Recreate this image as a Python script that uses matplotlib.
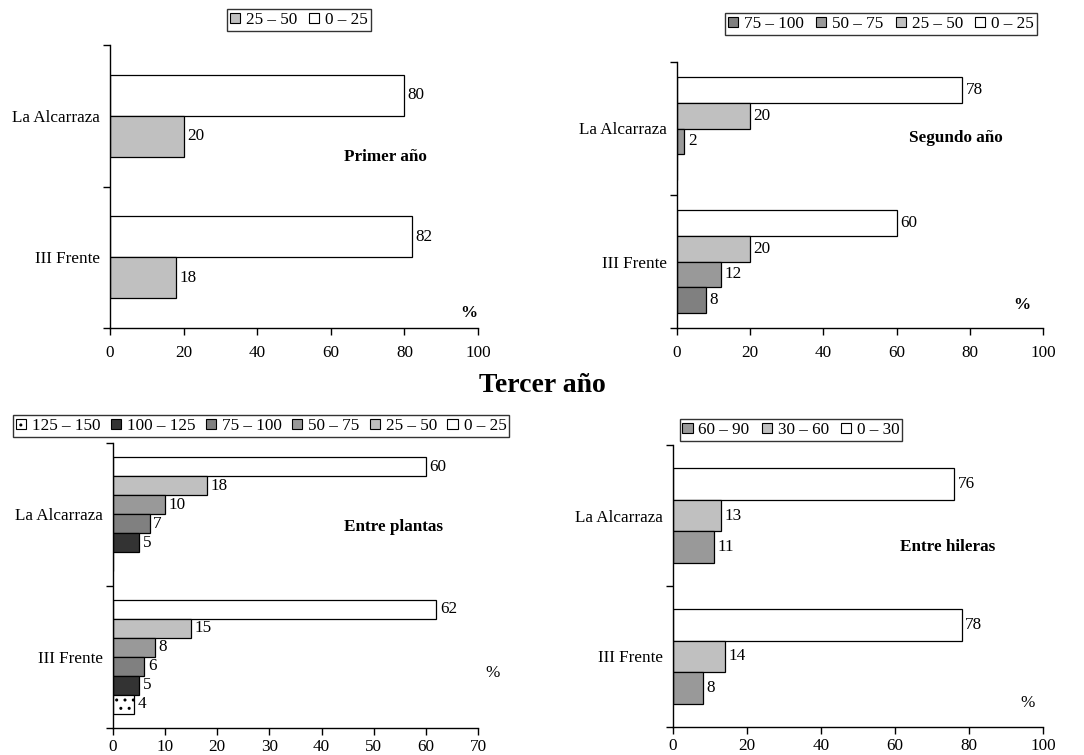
import matplotlib
matplotlib.use("Agg")
import matplotlib.pyplot as plt
from matplotlib.patches import Patch

plt.rcParams['font.family'] = ['Liberation Serif', 'DejaVu Serif']
plt.rcParams['hatch.color'] = '#444444'
plt.rcParams['hatch.linewidth'] = 1.0

W, H = 1084, 755
FS = 12.3

sites = ["La Alcarraza", "III Frente"]

# Panel 1: Primer año
p1_classes = ["0 – 25", "25 – 50"]
p1_alcarraza = [80, 20]
p1_frente = [82, 18]

# Panel 2: Segundo año
p2_classes = ["0 – 25", "25 – 50", "50 – 75", "75 – 100"]
p2_alcarraza = [78, 20, 2, 0]
p2_frente = [60, 20, 12, 8]

# Panel 3: Tercer año, entre plantas
p3_classes = ["0 – 25", "25 – 50", "50 – 75", "75 – 100", "100 – 125", "125 – 150"]
p3_alcarraza = [60, 18, 10, 7, 5, 0]
p3_frente = [62, 15, 8, 6, 5, 4]

# Panel 4: Tercer año, entre hileras
p4_classes = ["0 – 30", "30 – 60", "60 – 90"]
p4_alcarraza = [76, 13, 11]
p4_frente = [78, 14, 8]

c_white = "#ffffff"
c_light = "#c0c0c0"
c_mid = "#999999"
c_dark = "#808080"
c_vdark = "#333333"

p1_colors = [c_white, c_light]
p2_colors = [c_white, c_light, c_mid, c_dark]
p3_colors = [c_white, c_light, c_mid, c_dark, c_vdark, c_white]
p3_hatches = [None, None, None, None, None, '..']
p4_colors = [c_white, c_light, c_mid]

fig = plt.figure(figsize=(W / 100, H / 100), dpi=100)


def px_axes(x0, x1, ytop, ybot):
    return fig.add_axes([x0 / W, 1 - ybot / H, (x1 - x0) / W, (ybot - ytop) / H])


def draw_panel(ax, classes, alc, fre, colors, frac, xmax, xstep, hatches=None,
               leg_center=None, note=None, note_xy=None, pct_xy=None, pct_bold=True,
               xpad=7, colsp=0.7):
    n = len(classes)
    h = frac / n
    if hatches is None:
        hatches = [None] * n
    for c, vals in enumerate([alc, fre]):
        for i, v in enumerate(vals):
            y = c - frac / 2 + h * (i + 0.5)
            ax.barh(y, v, height=h, color=colors[i], edgecolor='black',
                    linewidth=0.9, hatch=hatches[i])
            if v > 0:
                ax.annotate(str(v), xy=(v, y), xytext=(2.5, 0),
                            textcoords='offset points', va='center', ha='left',
                            fontsize=FS)
    ax.set_ylim(1.5, -0.5)
    ax.set_xlim(0, xmax)
    ax.set_xticks(list(range(0, xmax + 1, xstep)))
    ax.set_yticks([0, 1])
    ax.set_yticklabels(sites, fontsize=FS)
    ax.set_yticks([-0.5, 0.5, 1.5], minor=True)
    ax.tick_params(axis='y', which='major', length=0, pad=7)
    ax.tick_params(axis='y', which='minor', length=5, direction='out', width=1)
    ax.tick_params(axis='x', length=5, direction='out', width=1, labelsize=FS, pad=xpad)
    for s in ['top', 'right']:
        ax.spines[s].set_visible(False)
    for s in ['left', 'bottom']:
        ax.spines[s].set_linewidth(1)
    ax.spines['bottom'].set_bounds(0, xmax)
    handles = [Patch(facecolor=colors[i], edgecolor='black', linewidth=0.8,
                     hatch=hatches[i], label=classes[i]) for i in range(n)][::-1]
    leg = fig.legend(handles=handles, loc='center',
                     bbox_to_anchor=(leg_center[0] / W, 1 - leg_center[1] / H),
                     ncol=n, fontsize=FS, frameon=True, fancybox=False,
                     handlelength=0.6, handleheight=0.6, handletextpad=0.35,
                     columnspacing=colsp, borderpad=0.15, borderaxespad=0)
    leg.get_frame().set_edgecolor('black')
    leg.get_frame().set_linewidth(1)
    if note:
        fig.text(note_xy[0] / W, 1 - note_xy[1] / H, note, fontsize=FS,
                 fontweight='bold', ha='center', va='center')
    fig.text(pct_xy[0] / W, 1 - pct_xy[1] / H, "%", fontsize=FS,
             fontweight='bold' if pct_bold else 'normal', ha='center', va='center')


ax1 = px_axes(110, 478, 45, 328)
draw_panel(ax1, p1_classes, p1_alcarraza, p1_frente, p1_colors, 0.58, 100, 20,
           leg_center=(299, 20), note="Primer año", note_xy=(385, 157),
           pct_xy=(469, 313))

ax2 = px_axes(677, 1043, 62, 328)
draw_panel(ax2, p2_classes, p2_alcarraza, p2_frente, p2_colors, 0.77, 100, 20,
           leg_center=(881, 24), note="Segundo año", note_xy=(956, 138),
           pct_xy=(1022, 305))

ax3 = px_axes(113, 478, 443, 728)
draw_panel(ax3, p3_classes, p3_alcarraza, p3_frente, p3_colors, 0.80, 70, 10,
           hatches=p3_hatches, leg_center=(261, 426), note="Entre plantas",
           note_xy=(393, 527), pct_xy=(493, 673), pct_bold=False, xpad=3,
           colsp=0.6)

ax4 = px_axes(673, 1043, 445, 727)
draw_panel(ax4, p4_classes, p4_alcarraza, p4_frente, p4_colors, 0.67, 100, 20,
           leg_center=(791, 430), note="Entre hileras", note_xy=(948, 547),
           pct_xy=(1028, 703), pct_bold=False, xpad=3)

fig.text(542 / W, 1 - 385 / H, "Tercer año", fontsize=20, fontweight='bold',
         ha='center', va='center')

fig.savefig("out.png", dpi=100)
